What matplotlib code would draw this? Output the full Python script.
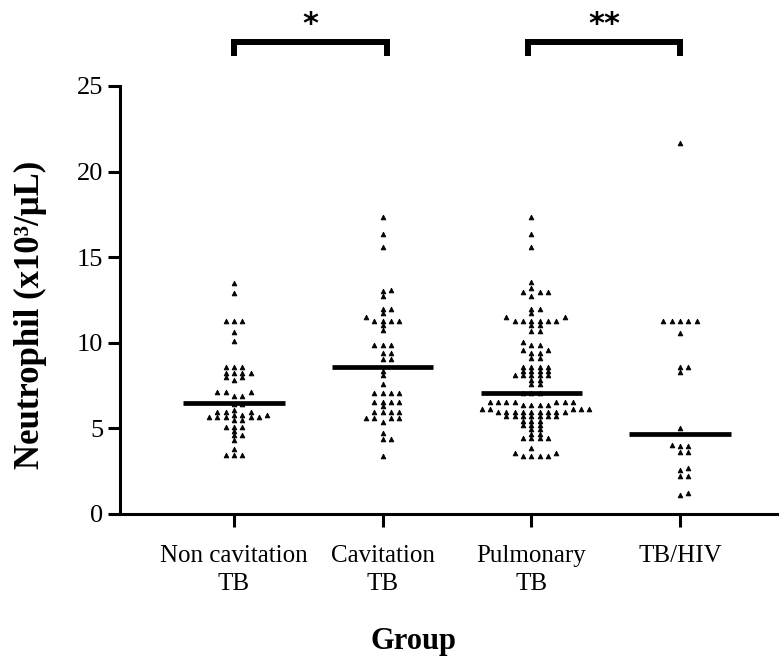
import numpy as np
import matplotlib
matplotlib.use("Agg")
import matplotlib.pyplot as plt

# ---------------- data ----------------
categories = ["Non cavitation\nTB", "Cavitation\nTB", "Pulmonary\nTB", "TB/HIV"]

non_cavitation = [13.5, 12.9, 11.3, 11.3, 11.3, 10.65, 10.1,
                  8.6, 8.6, 8.6, 8.25, 8.25, 8.25, 8.25, 8.0, 8.0, 7.8,
                  7.1, 7.1, 7.1, 6.9, 6.9, 6.45, 6.45,
                  6.1, 5.95, 5.95, 5.95, 5.8, 5.8, 5.8, 5.65, 5.65, 5.65, 5.65, 5.65, 5.5, 5.5,
                  5.1, 5.1, 5.1, 4.85, 4.6, 4.6, 4.35, 3.8, 3.45, 3.45, 3.45]

cavitation = [17.35, 16.35, 15.6,
              13.1, 13.0, 12.75,
              12.0, 12.0, 11.75, 11.5, 11.3, 11.3, 11.3, 11.3, 11.05, 10.75,
              9.85, 9.85, 9.85, 9.4, 9.4, 9.05, 9.05,
              8.35, 8.1, 7.6,
              7.05, 7.05, 7.05, 7.05, 6.55, 6.55, 6.55, 6.55, 6.3,
              5.95, 5.95, 5.95, 5.95, 5.6, 5.6, 5.6, 5.6, 5.4,
              4.75, 4.4, 4.4, 3.4]

pulmonary = [17.35, 16.35, 15.6,
             13.55, 13.2, 12.95, 12.95, 12.95, 12.75,
             12.0, 12.0, 11.75, 11.5, 11.5, 11.3, 11.3, 11.3, 11.3, 11.3, 11.3,
             11.05, 11.05, 10.7, 10.7,
             10.05, 9.85, 9.85, 9.6, 9.6, 9.4, 9.4, 9.1, 9.1,
             8.6, 8.6, 8.6, 8.6, 8.35, 8.35, 8.35, 8.35,
             8.1, 8.1, 8.1, 8.1, 8.1, 7.85, 7.85, 7.6, 7.6,
             7.05, 7.05, 7.05,
             6.55, 6.55, 6.55, 6.55, 6.55, 6.55, 6.55,
             6.35, 6.35, 6.35, 6.35, 6.15, 6.15, 6.15, 6.15, 6.15,
             5.95, 5.95, 5.95, 5.95, 5.95, 5.95, 5.95, 5.95, 5.95,
             5.7, 5.7, 5.7, 5.7, 5.7, 5.7, 5.7,
             5.45, 5.45, 5.45, 5.2, 5.2, 5.2, 4.95, 4.95, 4.7, 4.7,
             4.45, 4.45, 4.45, 4.45,
             3.85, 3.55, 3.55, 3.4, 3.4, 3.4, 3.4]

tb_hiv = [21.65, 11.27, 11.27, 11.27, 11.27, 11.27, 10.55,
          8.6, 8.6, 8.3, 5.0,
          4.0, 4.0, 4.05, 3.6, 3.6, 2.7, 2.55, 2.2, 2.2, 1.2, 1.1]

center_lines = [6.47, 8.57, 7.08, 4.65]

groups = [non_cavitation, cavitation, pulmonary, tb_hiv]

y_ticks = [0, 5, 10, 15, 20, 25]

# ---------------- figure ----------------
W, H = 779, 659
fig = plt.figure(figsize=(W / 100, H / 100), dpi=100)
ax = fig.add_axes([120 / W, 145 / H, 659 / W, 428 / H])

serif = "Liberation Serif"
px_per_x = 148.67          # pixels per category unit
px_per_y = 428 / 25.0      # pixels per data unit

xmin, xmax = -114 / px_per_x, 545 / px_per_x
ax.set_xlim(xmin, xmax)
ax.set_ylim(0, 25)


def swarm(vals, dx_px=8.3, dy_px=4.0, step_px=4.15):
    """Simple beeswarm: returns x offsets (category units)."""
    order = np.argsort(vals)
    placed = []  # (xpx, ypx)
    offs = np.zeros(len(vals))
    cands = [0.0]
    for k in range(1, 20):
        cands += [k * step_px, -k * step_px]
    for idx in order:
        y = vals[idx] * px_per_y
        for c in cands:
            ok = True
            for (px, py) in placed:
                if abs(px - c) < dx_px - 0.01 and abs(py - y) < dy_px:
                    ok = False
                    break
            if ok:
                placed.append((c, y))
                offs[idx] = c / px_per_x
                break
    return offs


for i, vals in enumerate(groups):
    vals = np.asarray(vals, dtype=float)
    offs = swarm(vals)
    ax.plot(i + offs, vals, linestyle="none", marker="^", ms=3.4,
            color="black", mec="black", mew=0.6, zorder=3, clip_on=False)
    ax.plot([i - 0.34, i + 0.34], [center_lines[i]] * 2, color="black",
            lw=3.4, solid_capstyle="butt", zorder=4)

# axes styling
for s in ["top", "right"]:
    ax.spines[s].set_visible(False)
for s in ["left", "bottom"]:
    ax.spines[s].set_linewidth(2.2)
ax.set_yticks(y_ticks)
ax.set_yticklabels([str(t) for t in y_ticks], fontfamily=serif, fontsize=19)
ax.set_xticks(range(len(categories)))
ax.set_xticklabels(categories, fontfamily=serif, fontsize=18, linespacing=1.4)
ax.tick_params(axis="both", which="major", length=9, width=2.2, direction="out")
ax.tick_params(axis="y", pad=3)
ax.tick_params(axis="x", pad=13)

fig.text(30 / W, 1 - 315 / H, "Neutrophil (x10³/μL)", rotation=90,
         ha="center", va="center", fontfamily=serif, fontsize=25,
         fontweight="bold")
fig.text(414 / W, 1 - 641 / H, "Group", ha="center", va="center",
         fontfamily=serif, fontsize=22, fontweight="bold")

# significance brackets
y_top = (514 - 42) / px_per_y
y_leg = (514 - 56) / px_per_y
for (a, b, lab) in [(0.0, 1.03, "*"), (1.98, 3.0, "**")]:
    ax.plot([a, a, b, b], [y_leg, y_top, y_top, y_leg], color="black",
            lw=4.3, solid_joinstyle="miter", solid_capstyle="butt",
            clip_on=False)
    ax.text((a + b) / 2, y_top + 0.15, lab, ha="center", va="bottom",
            fontsize=22, fontweight="bold", fontfamily="DejaVu Sans")

fig.savefig("out.png", dpi=100)
